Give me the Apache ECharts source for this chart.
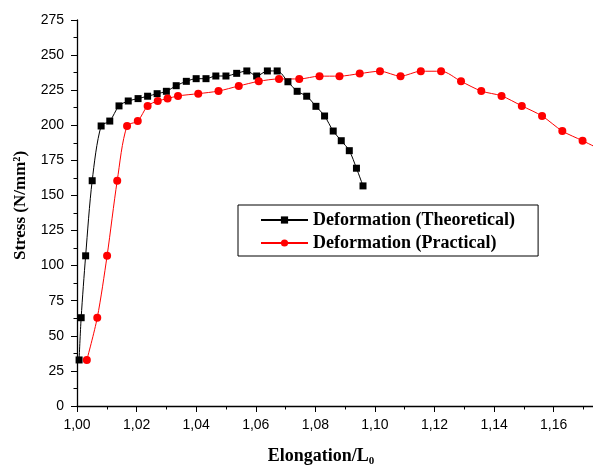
<!DOCTYPE html>
<html>
<head>
<meta charset="utf-8">
<script src="https://cdn.jsdelivr.net/npm/echarts@6/dist/echarts.min.js"></script>
<style>
  html, body { margin: 0; padding: 0; background: #fff; }
  #chart { width: 593px; height: 466px; }
</style>
</head>
<body>
<div id="chart"></div>
<script>
// Deformation (Theoretical) - black squares
const theoX = [1.0007, 1.0014, 1.0029, 1.0051, 1.0081, 1.0110, 1.0141, 1.0172, 1.0205, 1.0237,
  1.0269, 1.0300, 1.0333, 1.0367, 1.0400, 1.0433, 1.0466, 1.0500, 1.0536, 1.0570,
  1.0603, 1.0639, 1.0672, 1.0708, 1.0739, 1.0771, 1.0802, 1.0831, 1.0860, 1.0887,
  1.0914, 1.0938, 1.0960];
const theoY = [32.8, 62.9, 107, 160.5, 199.5, 203, 213.8, 217.3, 219, 220.7,
  222.5, 224.2, 228.2, 231.3, 233.2, 233.2, 235.1, 235.1, 237, 238.7,
  235.1, 238.7, 238.7, 231, 224.2, 220.7, 213.5, 206.6, 195.9, 189,
  181.9, 169.4, 156.8];

// Deformation (Practical) - red circles
const pracX = [1.0033, 1.0068, 1.0101, 1.0135, 1.0168, 1.0204, 1.0237, 1.0271, 1.0304, 1.0339,
  1.0407, 1.0475, 1.0543, 1.0610, 1.0678, 1.0746, 1.0814, 1.0881, 1.0949, 1.1017,
  1.1086, 1.1154, 1.1222, 1.1289, 1.1357, 1.1425, 1.1493, 1.1561, 1.1629, 1.1697,
  1.1765];
const pracY = [32.8, 62.9, 107, 160.5, 199.5, 203, 213.8, 217.3, 219, 220.9,
  222.5, 224.4, 228, 231.3, 233, 233, 235, 235, 236.8, 238.5,
  235, 238.5, 238.5, 231.3, 224.4, 220.9, 213.8, 206.6, 195.9, 189,
  181.9];

const seriesNames = ["Deformation (Theoretical)", "Deformation (Practical)"];
const xTicks = [1.00, 1.02, 1.04, 1.06, 1.08, 1.10, 1.12, 1.14, 1.16];
const yTicks = [0, 25, 50, 75, 100, 125, 150, 175, 200, 225, 250, 275];

const zip = (xs, ys) => xs.map((x, i) => [x, ys[i]]);

const labelFont = { fontFamily: "Liberation Sans", fontSize: 14, color: "#000" };
const titleFont = { fontFamily: "Liberation Serif", fontWeight: "bold", fontSize: 17, color: "#000" };

const myChart = echarts.init(document.getElementById("chart"));
const option = {
  animation: false,
  grid: { left: 77, right: 0, top: 20, bottom: 60, outerBoundsMode: "none" },
  legend: {
    orient: "vertical",
    left: 238,
    top: 205,
    borderColor: "#000",
    borderWidth: 1,
    padding: [6, 23, 4, 22],
    itemWidth: 47,
    itemHeight: 9,
    itemGap: 5,
    textStyle: Object.assign({}, titleFont, { fontSize: 18, lineHeight: 17 }),
    data: seriesNames,
  },
  xAxis: {
    type: "value",
    min: xTicks[0],
    max: 1.1732,
    interval: 0.02,
    name: "{a|Elongation/L}{sub|0}",
    nameLocation: "middle",
    nameGap: 40,
    nameTextStyle: {
      rich: {
        a: Object.assign({}, titleFont, { fontSize: 18 }),
        sub: { fontFamily: "Liberation Serif", fontWeight: "bold", fontSize: 11, color: "#000", padding: [10, 28, 0, 0] },
      },
    },
    axisLine: { lineStyle: { color: "#000", width: 1.3 } },
    axisTick: { length: 6, lineStyle: { color: "#000" } },
    minorTick: { show: true, splitNumber: 2, length: 3.5, lineStyle: { color: "#000" } },
    splitLine: { show: false },
    axisLabel: Object.assign({
      margin: 12,
      formatter: function (v) {
        const hit = xTicks.find((t) => Math.abs(t - v) < 1e-6);
        return hit === undefined ? "" : hit.toFixed(2).replace(".", ",");
      },
    }, labelFont),
  },
  yAxis: {
    type: "value",
    min: yTicks[0],
    max: yTicks[yTicks.length - 1],
    interval: 25,
    name: "Stress (N/mm²)",
    nameLocation: "middle",
    nameGap: 48,
    nameTextStyle: Object.assign({ padding: [0, 0, 0, 15] }, titleFont),
    axisLine: { show: true, lineStyle: { color: "#000", width: 1.3 } },
    axisTick: { show: true, length: 6, lineStyle: { color: "#000" } },
    minorTick: { show: true, splitNumber: 2, length: 3.5, lineStyle: { color: "#000" } },
    splitLine: { show: false },
    axisLabel: Object.assign({ margin: 13 }, labelFont),
  },
  series: [
    {
      name: seriesNames[0],
      type: "line",
      smooth: 0.3,
      symbol: "rect",
      symbolSize: 7,
      color: "#000",
      lineStyle: { color: "#000", width: 1 },
      itemStyle: { color: "#000" },
      data: zip(theoX, theoY),
    },
    {
      name: seriesNames[1],
      type: "line",
      smooth: 0.3,
      symbol: "circle",
      symbolSize: 8,
      color: "#ff0000",
      lineStyle: { color: "#ff0000", width: 1 },
      itemStyle: { color: "#ff0000" },
      data: zip(pracX, pracY),
    },
  ],
};
myChart.setOption(option);
</script>
</body>
</html>
